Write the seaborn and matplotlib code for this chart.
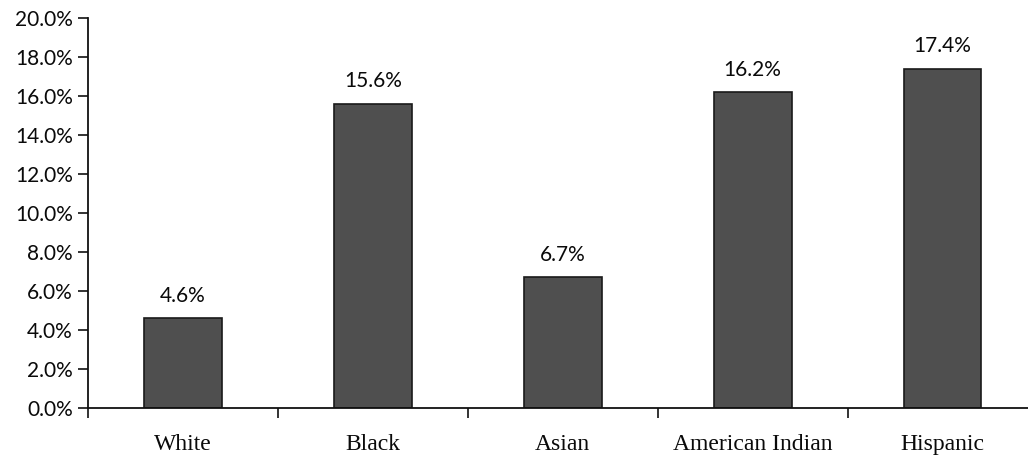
import matplotlib
matplotlib.use("Agg")
import matplotlib.pyplot as plt
from matplotlib.ticker import FixedLocator, PercentFormatter
import seaborn as sns
import pandas as pd

groups = ["White", "Black", "Asian", "American Indian", "Hispanic"]
rates = [4.6, 15.6, 6.7, 16.2, 17.4]
value_labels = ["4.6%", "15.6%", "6.7%", "16.2%", "17.4%"]

df = pd.DataFrame({"group": groups, "rate": rates})

sns.set_theme(style="white")
plt.rcParams["font.family"] = ["Lato", "DejaVu Sans"]

fig = plt.figure(figsize=(10.28, 4.55), dpi=100)
ax = fig.add_axes([0.0856, 0.1033, 0.9144, 0.857])

sns.barplot(data=df, x="group", y="rate", color="#4f4f4f", saturation=1,
            width=0.41, edgecolor="#1a1a1a", linewidth=1.2, ax=ax)

for i, (v, t) in enumerate(zip(rates, value_labels)):
    ax.annotate(t, (i, v), xytext=(0, 9), textcoords="offset points",
                ha="center", va="bottom", fontsize=15, color="#0a0a0a")

ax.set_ylim(0, 20)
ax.set_xlim(-0.5, 4.45)
ax.set_yticks([0, 2, 4, 6, 8, 10, 12, 14, 16, 18, 20])
ax.yaxis.set_major_formatter(PercentFormatter(decimals=1))
ax.set_xlabel("")
ax.set_ylabel("")

for lbl in ax.get_yticklabels():
    lbl.set_fontsize(15)
    lbl.set_color("#0a0a0a")
for lbl in ax.get_xticklabels():
    lbl.set_fontfamily(["Liberation Serif", "DejaVu Serif"])
    lbl.set_fontsize(17)
    lbl.set_color("#0a0a0a")

ax.xaxis.set_minor_locator(FixedLocator([-0.5, 0.5, 1.5, 2.5, 3.5]))
ax.tick_params(axis="x", which="major", length=0, pad=19)
ax.tick_params(axis="x", which="minor", bottom=True, length=7, width=1.2, color="#111111", direction="out")
ax.tick_params(axis="y", which="major", left=True, length=7, width=1.2, color="#111111", direction="out", pad=4)

for side in ("top", "right"):
    ax.spines[side].set_visible(False)
for side in ("left", "bottom"):
    ax.spines[side].set_color("#111111")
    ax.spines[side].set_linewidth(1.3)

fig.savefig("out.png", dpi=100, facecolor="white")
